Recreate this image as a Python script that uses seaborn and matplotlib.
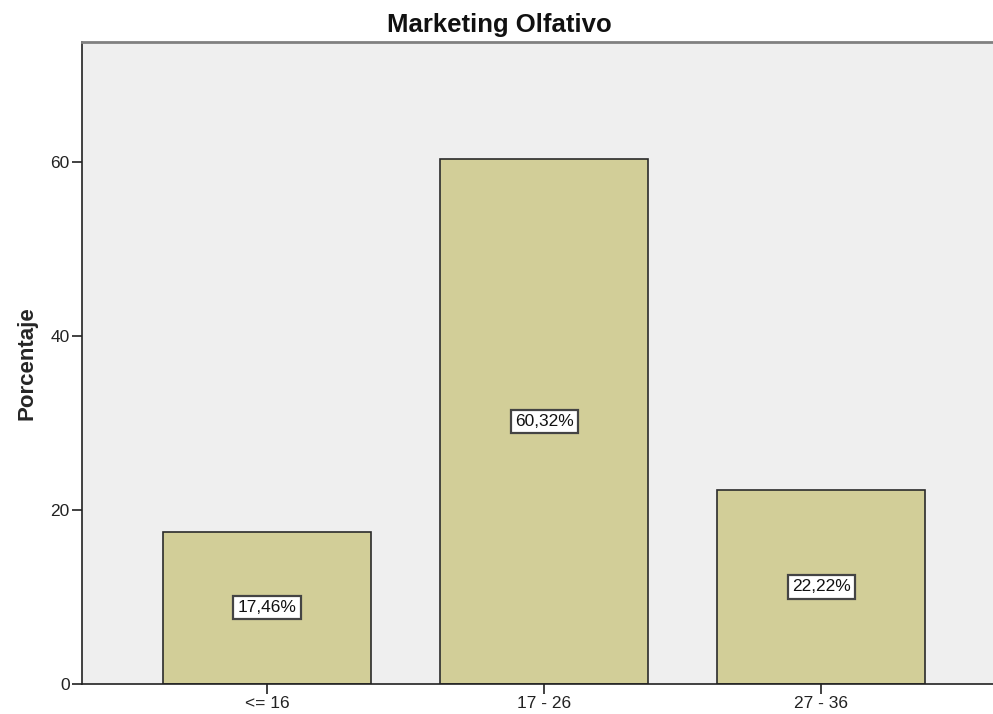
import matplotlib
matplotlib.use("Agg")
import matplotlib.pyplot as plt
import seaborn as sns
import pandas as pd

categories = ["<= 16", "17 - 26", "27 - 36"]
percentages = [17.46, 60.32, 22.22]
value_labels = ["17,46%", "60,32%", "22,22%"]

sns.set_theme(style="white")
plt.rcParams["font.family"] = ["Liberation Sans", "DejaVu Sans"]

df = pd.DataFrame({"grupo": categories, "pct": percentages})

fig = plt.figure(figsize=(9.93, 7.14), dpi=100)
ax = fig.add_axes([0.0826, 0.0427, 0.9174, 0.8985])
ax.set_facecolor("#EFEFEF")

sns.barplot(data=df, x="grupo", y="pct", ax=ax, color="#D2CE98",
            saturation=1, width=0.75, edgecolor="#2b2b2b", linewidth=1.2)

for patch, lab in zip(ax.patches, value_labels):
    cx = patch.get_x() + patch.get_width() / 2
    h = patch.get_height()
    ax.text(cx, h / 2, lab, ha="center", va="center", fontsize=12.5,
            color="#111111",
            bbox=dict(boxstyle="square,pad=0.24", fc="white",
                      ec="#444444", lw=1.6))

ax.set_xlim(-0.668, 2.62)
ax.set_ylim(0, 73.8)
ax.set_yticks([0, 20, 40, 60])
ax.set_xlabel("")
ax.set_ylabel("Porcentaje", fontsize=16, fontweight="bold", labelpad=9)
fig.text(0.503, 0.965, "Marketing Olfativo", ha="center", va="center",
         fontsize=18.5, fontweight="bold", color="#111111")

ax.tick_params(axis="both", which="major", direction="out", length=7,
               width=1.3, color="#333333", labelsize=12.5, pad=2,
               labelcolor="#222222", left=True, bottom=True)

for side in ["left", "bottom"]:
    ax.spines[side].set_color("#222222")
    ax.spines[side].set_linewidth(1.2)
ax.spines["top"].set_color("#808080")
ax.spines["top"].set_linewidth(2)
ax.spines["right"].set_visible(False)

fig.savefig("out.png", dpi=100)
